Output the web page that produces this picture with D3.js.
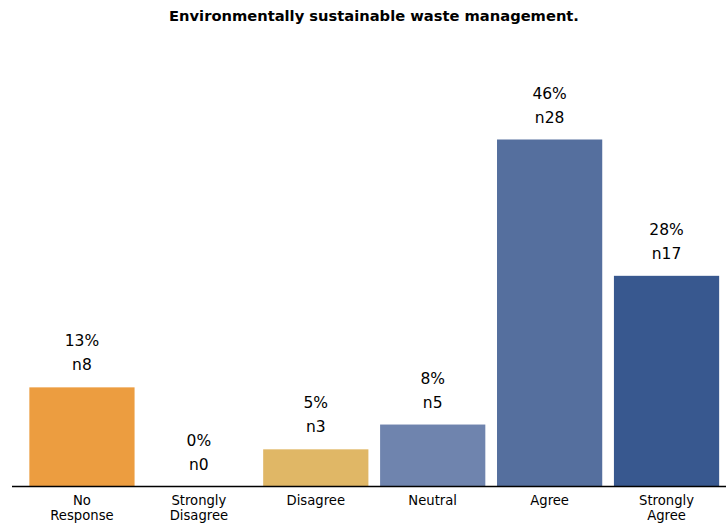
<!DOCTYPE html>
<html><head><meta charset="utf-8">
<script src="https://cdn.jsdelivr.net/npm/d3@7"></script>
<style>body{margin:0;background:#fff;}svg{display:block;font-family:"DejaVu Sans",sans-serif;}</style>
</head><body>
<svg id="c" width="726" height="526"></svg>
<script>
const categories = [["No","Response"],["Strongly","Disagree"],["Disagree"],["Neutral"],["Agree"],["Strongly","Agree"]];
const counts = [8, 0, 3, 5, 28, 17];
const percents = [13, 0, 5, 8, 46, 28];
const colors = ["#EC9D40", "#EC9D40", "#E0B766", "#6F84AE", "#556F9E", "#38588F"];
const title = "Environmentally sustainable waste management.";

const svg = d3.select("#c");
const baseY = 486.5;
const keys = categories.map((c,i)=>i);
const x = d3.scaleBand().domain(keys).range([23.5, 725]).paddingInner(0.1).paddingOuter(0.05);
const y = d3.scaleLinear().domain([0, 28]).range([baseY, 139.5]);

svg.append("text").attr("x", 374).attr("y", 21).attr("text-anchor","middle")
  .attr("font-weight","bold").attr("font-size", 14.7).attr("fill","#000").text(title);

svg.selectAll("rect.bar").data(counts).join("rect").attr("class","bar")
  .attr("x",(d,i)=>x(i)).attr("width",x.bandwidth())
  .attr("y",d=>y(d)).attr("height",d=>baseY-y(d))
  .attr("fill",(d,i)=>colors[i]);

svg.selectAll("text.pct").data(percents).join("text").attr("class","pct")
  .attr("x",(d,i)=>x(i)+x.bandwidth()/2).attr("y",(d,i)=>y(counts[i])-41)
  .attr("text-anchor","middle").attr("font-size",15.5).attr("fill","#000").text(d=>d+"%");
svg.selectAll("text.n").data(counts).join("text").attr("class","n")
  .attr("x",(d,i)=>x(i)+x.bandwidth()/2).attr("y",d=>y(d)-17)
  .attr("text-anchor","middle").attr("font-size",15.5).attr("fill","#000").text(d=>"n"+d);

svg.append("line").attr("x1",12).attr("x2",726).attr("y1",baseY).attr("y2",baseY)
  .attr("stroke","#000").attr("stroke-width",1.3);

const lab = svg.selectAll("text.cat").data(categories).join("text").attr("class","cat")
  .attr("text-anchor","middle").attr("font-size",13.2).attr("fill","#000");
lab.each(function(d,i){
  const t = d3.select(this);
  d.forEach((s,k)=>t.append("tspan").attr("x",x(i)+x.bandwidth()/2).attr("y",505+k*15).text(s));
});
</script>
</body></html>
